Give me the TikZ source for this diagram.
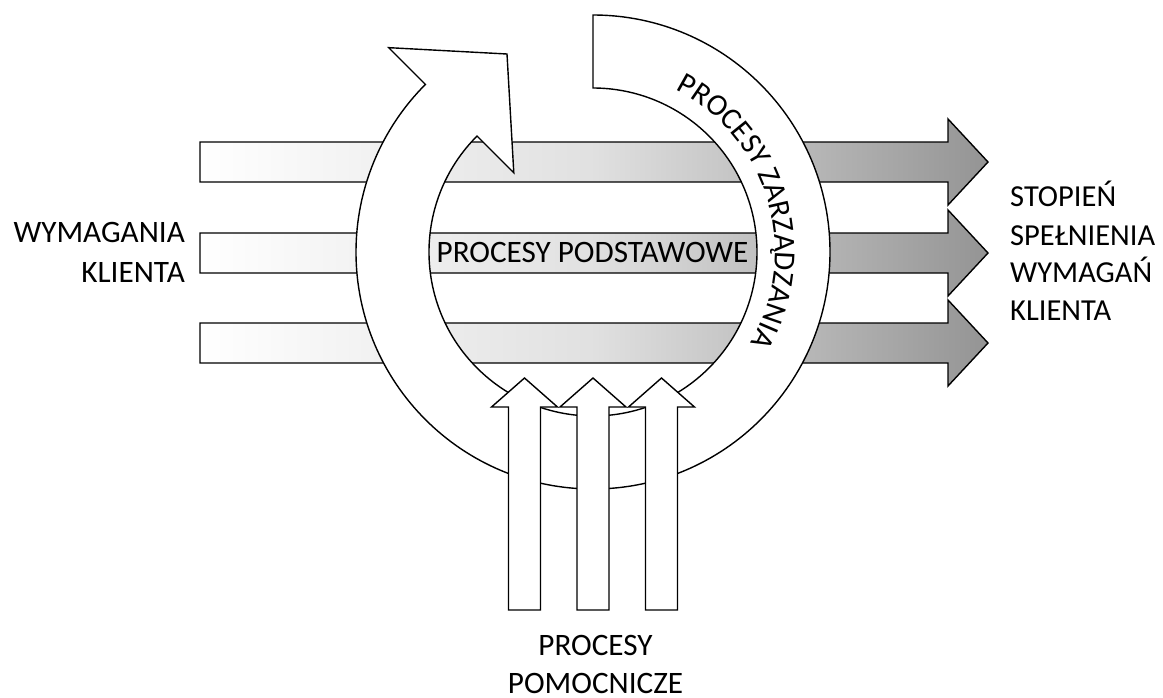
\documentclass[tikz,border=0pt]{standalone}
\usepackage{fontspec}
\setmainfont{Carlito}
\usetikzlibrary{decorations.text}
\begin{document}
\begin{tikzpicture}[x=1pt,y=1pt,
  outline/.style={draw=black, line width=1.4pt, line join=miter},
  harrow/.style={outline, left color=white, right color=black!42, middle color=black!12},
  ringshape/.style={outline, fill=white},
  varrow/.style={outline, fill=white},
  lbl/.style={inner sep=0pt, font=\fontsize{31.2}{38}\selectfont},
  rlbl/.style={inner sep=0pt, font=\fontsize{30.5}{38}\selectfont},
]
\useasboundingbox (0,0) rectangle (1163,-697);
\fill[white] (0,0) rectangle (1163,-697);
\coordinate (C) at (593,-252);
% horizontal arrows
\foreach \yy in {162,253,343}{
  \draw[harrow] (200,-\yy+20) -- (948,-\yy+20) -- (948,-\yy+43) -- (988,-\yy)
    -- (948,-\yy-43) -- (948,-\yy-20) -- (200,-\yy-20) -- cycle;
}
% ring arrow
\draw[ringshape] ([shift={(90:237pt)}]C) arc[start angle=90, end angle=-225, radius=237pt]
  -- ([shift={(135:289pt)}]C) -- (507,-54) -- ([shift={(135:112pt)}]C)
  -- ([shift={(135:164pt)}]C) arc[start angle=135, end angle=450, radius=164pt] -- cycle;
\path[decorate, decoration={text along path, text align=center,
  text={|\fontsize{30.5}{36}\selectfont|PROCESY ZARZĄDZANIA}}]
  ([shift={(76.5:182pt)}]C) arc[start angle=76.5, end angle=-43.5, radius=182pt];
% vertical arrows
\foreach \xx in {524.5,593,661.5}{
  \draw[varrow] (\xx-16,-610) -- (\xx-16,-407) -- (\xx-33,-407) -- (\xx,-378)
    -- (\xx+33,-407) -- (\xx+16,-407) -- (\xx+16,-610) -- cycle;
}
% labels
\node[lbl, anchor=base east] (wl1) at (185,-242) {WYMAGANIA};
\node[lbl, anchor=base east] (wl2) at (185,-282) {KLIENTA};
\node[lbl, anchor=base] (pp) at (592.5,-262) {PROCESY PODSTAWOWE};
\node[rlbl, anchor=base west] (s1) at (1010,-206) {STOPIEŃ};
\node[rlbl, anchor=base west] (s2) at (1010,-245) {SPEŁNIENIA};
\node[rlbl, anchor=base west] (s3) at (1010,-282) {WYMAGAŃ};
\node[rlbl, anchor=base west] (s4) at (1010,-320) {KLIENTA};
\node[lbl, anchor=base] (pm1) at (595.5,-655) {PROCESY};
\node[lbl, anchor=base] (pm2) at (595.5,-693) {POMOCNICZE};
\end{tikzpicture}
\end{document}
